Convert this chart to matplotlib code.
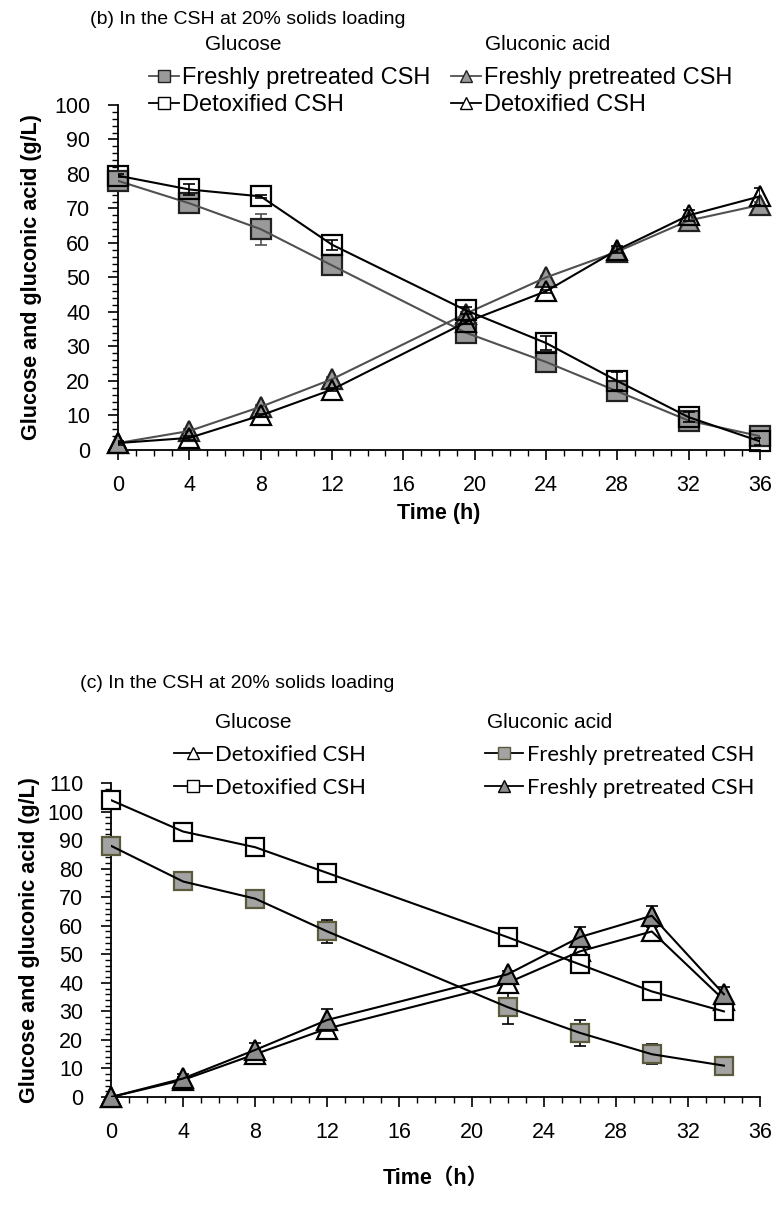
import matplotlib
matplotlib.use("Agg")
import matplotlib.pyplot as plt
from matplotlib.lines import Line2D
from matplotlib.ticker import MultipleLocator

# ---------------- panel (b) data ----------------
t_b = [0, 4, 8, 12, 19.5, 24, 28, 32, 36]
glc_fresh_b = [78, 71.5, 64, 53.5, 34, 25.5, 17, 8.5, 4]
glc_fresh_b_err = [1, 1.5, 4.5, 1, 1, 1, 1, 1, 1]
glc_detox_b = [79.5, 75.5, 73.5, 59.5, 40.5, 31, 20, 9.5, 2.5]
glc_detox_b_err = [0.5, 1.5, 0.5, 1.5, 1, 2, 2.5, 1.5, 1]
gla_fresh_b = [2, 5.5, 12.5, 20.5, 39.5, 50, 57.5, 66.5, 71]
gla_fresh_b_err = [0.5, 0.5, 0.5, 0.5, 0.5, 0.5, 1, 1, 1]
gla_detox_b = [2, 3.5, 10, 17.5, 37, 46, 58, 68, 73.5]
gla_detox_b_err = [0.5, 0.5, 0.5, 0.5, 0.5, 0.5, 1, 1.5, 2.5]

# ---------------- panel (c) data ----------------
t_c = [0, 4, 8, 12, 22, 26, 30, 34]
glc_detox_c = [104, 93, 87.5, 78.5, 56, 46.5, 37, 30]
glc_detox_c_err = [0.5, 2, 1, 1.5, 0.5, 1.5, 2, 1.5]
glc_fresh_c = [88, 75.5, 69.5, 58, 31.5, 22.5, 15, 11]
glc_fresh_c_err = [2, 0.5, 2.5, 4, 6, 4.5, 3.5, 2.5]
gla_detox_c = [0, 6, 15, 24, 40, 51, 58, 34]
gla_detox_c_err = [0, 1, 1, 1.5, 1, 1.5, 1.5, 1]
gla_fresh_c = [0, 6.5, 16.5, 27, 43, 56, 63.5, 36]
gla_fresh_c_err = [0, 1.5, 2.5, 4, 1, 3.5, 3.5, 2.5]

x_ticks = list(range(0, 37, 4))

ARIAL = "Liberation Sans"
GRAY_FILL = "#9a9a9a"
GRAY_LINE = "#505050"

fig = plt.figure(figsize=(7.8, 12.05), dpi=100)


def style_axes(ax, ymax):
    ax.set_xlim(0, 36)
    ax.set_ylim(0, ymax)
    ax.spines["top"].set_visible(False)
    ax.spines["right"].set_visible(False)
    for s in ("left", "bottom"):
        ax.spines[s].set_linewidth(1.3)
        ax.spines[s].set_color("black")
    ax.set_xticks(x_ticks)
    ax.xaxis.set_minor_locator(MultipleLocator(1))
    ax.yaxis.set_major_locator(MultipleLocator(10))
    ax.yaxis.set_minor_locator(MultipleLocator(2))
    ax.tick_params(which="major", direction="out", length=7, width=1.2,
                   labelsize=15.5)
    ax.tick_params(axis="x", which="major", pad=11)
    ax.tick_params(axis="y", which="major", pad=13)
    ax.tick_params(which="minor", direction="out", length=4, width=1.0)
    for lab in ax.get_xticklabels() + ax.get_yticklabels():
        lab.set_family(ARIAL)


def series(ax, t, y, err, marker, face, line_col, edge_col, ms, z):
    ax.errorbar(t, y, yerr=err, fmt="none", ecolor=line_col, elinewidth=1.2,
                capsize=4, capthick=1.2, zorder=z)
    ax.plot(t, y, color=line_col, lw=1.5, zorder=z + 0.5)
    ax.plot(t, y, ls="none", marker=marker, ms=ms, mfc=face, mec=edge_col,
            mew=1.6, zorder=z, clip_on=False)


# ================= panel (b) =================
axb = fig.add_axes([0.1513, 0.6266, 0.823, 0.2863])
style_axes(axb, 100)
series(axb, t_b, glc_fresh_b, glc_fresh_b_err, "s", GRAY_FILL, GRAY_LINE, "#222222", 14, 3)
series(axb, t_b, glc_detox_b, glc_detox_b_err, "s", "none", "black", "black", 14, 4)
series(axb, t_b, gla_fresh_b, gla_fresh_b_err, "^", GRAY_FILL, GRAY_LINE, "#222222", 15, 3)
series(axb, t_b, gla_detox_b, gla_detox_b_err, "^", "none", "black", "black", 15, 4)
axb.set_xlabel("Time (h)", family=ARIAL, fontsize=15.5, fontweight="bold", labelpad=5)
axb.set_ylabel("Glucose and gluconic acid (g/L)", family=ARIAL, fontsize=15.5,
               fontweight="bold", labelpad=9)

fig.text(90 / 780, 1 - 19 / 1205, "(b) In the CSH at 20% solids loading",
         family=ARIAL, fontsize=14, ha="left", va="center")
fig.text(243 / 780, 1 - 45 / 1205, "Glucose", family=ARIAL, fontsize=15,
         ha="center", va="center")
fig.text(548 / 780, 1 - 45 / 1205, "Gluconic acid", family=ARIAL, fontsize=15,
         ha="center", va="center")

h_b = [
    Line2D([], [], color=GRAY_LINE, lw=1.3, marker="s", ms=8, mfc=GRAY_FILL, mec="#222222"),
    Line2D([], [], color="black", lw=1.3, marker="s", ms=8, mfc="white", mec="black"),
    Line2D([], [], color=GRAY_LINE, lw=1.3, marker="^", ms=8, mfc=GRAY_FILL, mec="#222222"),
    Line2D([], [], color="black", lw=1.3, marker="^", ms=8, mfc="white", mec="black"),
]
l_b = ["Freshly pretreated CSH", "Detoxified CSH", "Freshly pretreated CSH", "Detoxified CSH"]
fig.legend(h_b, l_b, ncol=2, loc="upper left", bbox_to_anchor=(140 / 780, 1 - 58 / 1205),
           frameon=False, prop={"family": ARIAL, "size": 17}, handlelength=1.25,
           handletextpad=0.12, columnspacing=0.9, labelspacing=0.2, borderaxespad=0)

# ================= panel (c) =================
axc = fig.add_axes([0.1423, 0.0896, 0.832, 0.2606])
style_axes(axc, 110)
OLIVE = "#5b5a3c"
series(axc, t_c, glc_fresh_c, glc_fresh_c_err, "s", "#a3a3a3", "black", OLIVE, 13, 3)
series(axc, t_c, glc_detox_c, glc_detox_c_err, "s", "white", "black", "black", 13, 4)
series(axc, t_c, gla_detox_c, gla_detox_c_err, "^", "white", "black", "black", 14, 3)
series(axc, t_c, gla_fresh_c, gla_fresh_c_err, "^", "#8c8c8c", "black", "black", 14, 4)
axc.set_xlabel("Time（h）", family=[ARIAL, "Noto Sans CJK SC"], fontsize=15.5,
               fontweight="bold", labelpad=18)
axc.set_ylabel("Glucose and gluconic acid (g/L)", family=ARIAL, fontsize=15.5,
               fontweight="bold", labelpad=5)

fig.text(80 / 780, 1 - 683 / 1205, "(c) In the CSH at 20% solids loading",
         family=ARIAL, fontsize=14, ha="left", va="center")
fig.text(253 / 780, 1 - 722 / 1205, "Glucose", family=ARIAL, fontsize=15,
         ha="center", va="center")
fig.text(550 / 780, 1 - 722 / 1205, "Gluconic acid", family=ARIAL, fontsize=15,
         ha="center", va="center")

h_c = [
    Line2D([], [], color="black", lw=1.3, marker="^", ms=8, mfc="white", mec="black"),
    Line2D([], [], color="black", lw=1.3, marker="s", ms=8, mfc="white", mec="black"),
    Line2D([], [], color="black", lw=1.3, marker="s", ms=8, mfc="#a3a3a3", mec=OLIVE),
    Line2D([], [], color="black", lw=1.3, marker="^", ms=8, mfc="#8c8c8c", mec="black"),
]
l_c = ["Detoxified CSH", "Detoxified CSH", "Freshly pretreated CSH", "Freshly pretreated CSH"]
fig.legend(h_c, l_c, ncol=2, loc="upper left", bbox_to_anchor=(165 / 780, 1 - 736 / 1205),
           frameon=False, prop={"family": "Lato", "size": 15.8}, handlelength=1.75,
           handletextpad=0.15, columnspacing=5.4, labelspacing=0.58, borderaxespad=0)

fig.savefig("out.png", dpi=100)
